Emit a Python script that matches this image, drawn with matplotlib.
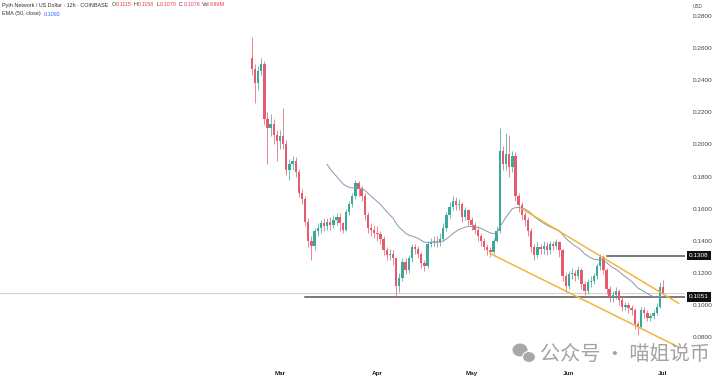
import numpy as np
import pandas as pd
import matplotlib
matplotlib.use("Agg")
import matplotlib.pyplot as plt
import matplotlib.dates as mdates
import matplotlib.transforms as mtransforms
from matplotlib.patches import Ellipse

plt.rcParams['font.family'] = ['Liberation Sans', 'DejaVu Sans']

# daily candles, 2024-02-21 .. 2024-07-01
start_date = "2024-02-21"
first_open = 0.254
closes = [
    0.247, 0.238, 0.246, 0.250, 0.216, 0.210, 0.213, 0.206, 0.202,
    0.205, 0.200, 0.184, 0.188, 0.190, 0.183, 0.170, 0.166, 0.152, 0.140,
    0.137, 0.146, 0.148, 0.151, 0.149, 0.152, 0.150, 0.153, 0.155, 0.151,
    0.147, 0.158, 0.163, 0.168, 0.176, 0.172, 0.168, 0.156, 0.148, 0.147,
    0.145, 0.144, 0.141, 0.134, 0.131, 0.132, 0.129, 0.112, 0.117, 0.127,
    0.122, 0.129, 0.136, 0.135, 0.132, 0.126, 0.124, 0.138, 0.139, 0.140,
    0.139, 0.141, 0.148, 0.156, 0.161, 0.165, 0.162, 0.163, 0.155, 0.159,
    0.153, 0.150, 0.147, 0.143, 0.140, 0.136, 0.134, 0.133, 0.140, 0.146,
    0.196, 0.188, 0.194, 0.186, 0.193, 0.168, 0.162, 0.156, 0.153, 0.146,
    0.136, 0.131, 0.136, 0.135, 0.137, 0.134, 0.138, 0.137, 0.139, 0.134,
    0.118, 0.112, 0.119, 0.120, 0.118, 0.122, 0.113, 0.109, 0.114, 0.115,
    0.118, 0.124, 0.130, 0.122, 0.110, 0.105, 0.106, 0.109, 0.103, 0.099,
    0.100, 0.098, 0.097, 0.088, 0.086, 0.097, 0.095, 0.092, 0.093, 0.095,
    0.099, 0.1115, 0.1076,
]
highs = [
    0.267, 0.250, 0.249, 0.254, 0.252, 0.220, 0.219, 0.216, 0.209,
    0.209, 0.223, 0.203, 0.191, 0.193, 0.192, 0.185, 0.172, 0.168, 0.154,
    0.143, 0.148, 0.151, 0.153, 0.154, 0.154, 0.155, 0.156, 0.157, 0.157,
    0.152, 0.160, 0.165, 0.170, 0.178, 0.177, 0.174, 0.170, 0.158, 0.151,
    0.150, 0.149, 0.146, 0.143, 0.136, 0.135, 0.134, 0.130, 0.120, 0.129,
    0.129, 0.131, 0.138, 0.138, 0.137, 0.133, 0.128, 0.140, 0.142, 0.143,
    0.143, 0.145, 0.151, 0.158, 0.164, 0.168, 0.167, 0.166, 0.164, 0.161,
    0.160, 0.155, 0.152, 0.149, 0.145, 0.142, 0.138, 0.136, 0.142, 0.149,
    0.210, 0.199, 0.207, 0.206, 0.196, 0.195, 0.170, 0.164, 0.158, 0.155,
    0.148, 0.138, 0.139, 0.138, 0.140, 0.139, 0.140, 0.140, 0.141, 0.140,
    0.135, 0.120, 0.121, 0.123, 0.122, 0.124, 0.123, 0.115, 0.116, 0.118,
    0.120, 0.126, 0.1315, 0.131, 0.123, 0.112, 0.109, 0.111, 0.110, 0.105,
    0.102, 0.102, 0.100, 0.098, 0.090, 0.099, 0.099, 0.097, 0.095, 0.097,
    0.101, 0.114, 0.1158,
]
lows = [
    0.243, 0.226, 0.234, 0.243, 0.212, 0.188, 0.205, 0.200, 0.190,
    0.197, 0.197, 0.181, 0.178, 0.184, 0.180, 0.167, 0.163, 0.149, 0.136,
    0.128, 0.134, 0.143, 0.145, 0.146, 0.147, 0.147, 0.148, 0.150, 0.146,
    0.145, 0.146, 0.156, 0.161, 0.166, 0.168, 0.165, 0.153, 0.145, 0.143,
    0.142, 0.140, 0.138, 0.131, 0.128, 0.128, 0.125, 0.105, 0.108, 0.115,
    0.119, 0.120, 0.127, 0.132, 0.129, 0.123, 0.121, 0.123, 0.136, 0.137,
    0.136, 0.137, 0.140, 0.146, 0.154, 0.159, 0.159, 0.159, 0.152, 0.153,
    0.150, 0.147, 0.144, 0.140, 0.137, 0.134, 0.131, 0.130, 0.132, 0.139,
    0.145, 0.184, 0.184, 0.180, 0.183, 0.165, 0.158, 0.153, 0.149, 0.143,
    0.133, 0.128, 0.129, 0.132, 0.132, 0.131, 0.132, 0.134, 0.135, 0.130,
    0.115, 0.108, 0.110, 0.116, 0.115, 0.116, 0.110, 0.106, 0.107, 0.111,
    0.113, 0.116, 0.122, 0.119, 0.107, 0.102, 0.102, 0.104, 0.100, 0.096,
    0.097, 0.095, 0.094, 0.085, 0.0815, 0.085, 0.092, 0.090, 0.090, 0.091,
    0.094, 0.098, 0.1070,
]

ema_len = 25  # 50 x 12h bars
last_price = 0.1076
levels = [0.1308, 0.1051]
level_starts = ["2024-06-13", "2024-03-09"]
channel_upper = (["2024-05-17", "2024-07-06"], [0.160, 0.101])
channel_lower = (["2024-05-07", "2024-07-06"], [0.132, 0.0737])
month_ticks = ["2024-03-01", "2024-04-01", "2024-05-01", "2024-06-01", "2024-07-01"]
month_labels = ["Mar", "Apr", "May", "Jun", "Jul"]
price_ticks = [0.08, 0.10, 0.12, 0.14, 0.16, 0.18, 0.20, 0.22, 0.24, 0.26, 0.28]

up_col = "#3aa89b"
down_col = "#e65a6e"

dates = pd.date_range(start_date, periods=len(closes), freq="D")
x = mdates.date2num(dates)
c = np.array(closes)
o = np.concatenate([[first_open], c[:-1]])
h = np.array(highs)
l = np.array(lows)

# EMA seeded with SMA like TradingView
ema = np.full(len(c), np.nan)
ema[ema_len - 1] = c[:ema_len].mean()
a = 2 / (ema_len + 1)
for i in range(ema_len, len(c)):
    ema[i] = a * c[i] + (1 - a) * ema[i - 1]

fig = plt.figure(figsize=(7.2, 3.87), dpi=100)
ax = fig.add_axes([0, 22 / 387, 685 / 720, 365 / 387])

mar1 = mdates.date2num(pd.Timestamp("2024-03-01"))
ax.set_xlim(mar1 - 89.2, mar1 + 129.0)
ax.set_ylim(0.0626, 0.2900)

for s in ax.spines.values():
    s.set_visible(False)

# last price line across the whole pane
ax.axhline(last_price, color="#d4d4d4", lw=0.8, zorder=1)

cols = np.where(c >= o, up_col, down_col)
ax.vlines(x, l, h, colors=cols, lw=0.6, alpha=0.85, zorder=3)
body_h = np.maximum(np.abs(c - o), 0.0008)
ax.bar(x, body_h, bottom=np.minimum(o, c), width=0.75, color=cols, lw=0, zorder=4)

ax.plot(x, ema, color="#8a97ad", lw=0.7, zorder=5)

for lv, st in zip(levels, level_starts):
    x0 = mdates.date2num(pd.Timestamp(st))
    ax.plot([x0, ax.get_xlim()[1]], [lv, lv], color="#555555", lw=1.1, zorder=2)

for dd, pp in (channel_upper, channel_lower):
    ax.plot(mdates.date2num(pd.to_datetime(dd)), pp, color="#f2b540", lw=1.1, zorder=6)

ax.yaxis.tick_right()
ax.set_yticks(price_ticks)
ax.set_yticklabels([f"{v:.4f}" for v in price_ticks])
ax.tick_params(axis="y", length=0, pad=5.5, labelsize=4.6, labelcolor="#444444")
ax.set_xticks(mdates.date2num(pd.to_datetime(month_ticks)))
ax.set_xticklabels(month_labels)
ax.tick_params(axis="x", length=0, pad=4, labelsize=4.6, labelcolor="#222222")
for t in ax.get_xticklabels():
    t.set_fontweight("bold")

trans = mtransforms.blended_transform_factory(ax.transAxes, ax.transData)
for lv in levels:
    ax.text(1.006, lv, f"{lv:.4f}", transform=trans, ha="left", va="center",
            fontsize=4.6, color="white", clip_on=False,
            bbox=dict(boxstyle="square,pad=0.35", fc="#111111", ec="none"))

fig.text(693 / 720, 1 - 7 / 387, "USD", fontsize=3.4, color="#444444", va="center")

# header, pieces laid out one after another
renderer = fig.canvas.get_renderer()


def header_row(ypx, pieces, size=3.9):
    xpx = 2
    for txt, col, gap in pieces:
        t = fig.text(xpx / 720, 1 - ypx / 387, txt, fontsize=size, color=col, va="center")
        xpx += t.get_window_extent(renderer).width + gap


dark = "#333333"
red = "#f23645"
header_row(5, [("Pyth Network / US Dollar · 12h · COINBASE", dark, 3),
               ("O", dark, 0.5), ("0.1115", red, 2), ("H", dark, 0.5), ("0.1158", red, 2),
               ("L", dark, 0.5), ("0.1070", red, 2), ("C", dark, 0.5), ("0.1076", red, 2),
               ("Vol", dark, 0.5), ("8.89M", red, 0)])
header_row(14, [("EMA (50, close)", dark, 2.5), ("0.1092", "#2962ff", 0)])

# watermark
fig.patches.append(Ellipse((520 / 720, 1 - 350 / 387), 15 / 720, 13 / 387,
                           transform=fig.transFigure, fc="#a8a8a8", ec="none"))
fig.patches.append(Ellipse((529 / 720, 1 - 357 / 387), 13 / 720, 11 / 387,
                           transform=fig.transFigure, fc="#a8a8a8", ec="white", lw=0.8))
fig.text(540 / 720, 1 - 354 / 387, "公众号 · 喵姐说币", fontsize=14.5,
         family=["Noto Sans CJK SC", "DejaVu Sans"], color="#a3a3a3", va="center")

fig.savefig("out.png", dpi=100)
